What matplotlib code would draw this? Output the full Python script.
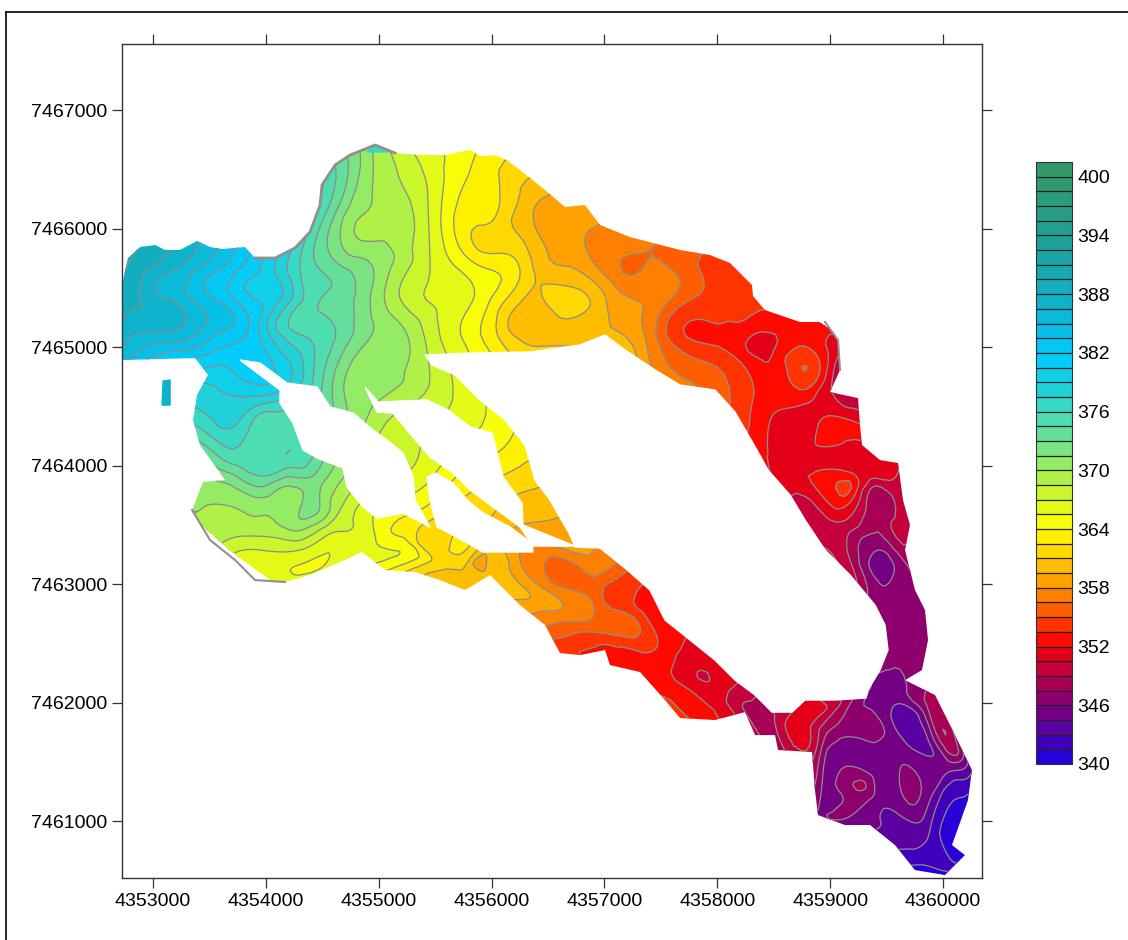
import matplotlib
matplotlib.use('Agg')
import matplotlib.pyplot as plt
import numpy as np
from matplotlib.colors import BoundaryNorm, LinearSegmentedColormap
from matplotlib.lines import Line2D
from matplotlib.patches import Polygon
from matplotlib.tri import Triangulation, UniformTriRefiner

plt.rcParams['font.family'] = ['Liberation Sans', 'DejaVu Sans']

x_ticks = [4353000, 4354000, 4355000, 4356000, 4357000, 4358000, 4359000, 4360000]
y_ticks = [7461000, 7462000, 7463000, 7464000, 7465000, 7466000, 7467000]
bar_ticks = [340, 346, 352, 358, 364, 370, 376, 382, 388, 394, 400]

outline_x = [4352725, 4352725, 4352778, 4352885, 4353018, 4353106, 4353239, 4353390, 4353505, 4353611,
             4353815, 4353904, 4354081, 4354258, 4354391, 4354480, 4354497, 4354613, 4354745, 4354967,
             4355144, 4355366, 4355587, 4355809, 4355897, 4356074, 4356252, 4356473, 4356650, 4356828,
             4356960, 4357226, 4357669, 4357935, 4358112, 4358307, 4358316, 4358422, 4358732, 4358954,
             4359069, 4359087, 4358998, 4359246, 4359264, 4359282, 4359441, 4359601, 4359645, 4359707,
             4359663, 4359751, 4359840, 4359867, 4359813, 4359663, 4359929, 4360106, 4360256, 4360221,
             4360079, 4360194, 4360017, 4359751, 4359574, 4359353, 4359131, 4358892, 4358865, 4358839,
             4358538, 4358511, 4358334, 4358245, 4357979, 4357669, 4357536, 4357315, 4357049, 4357005,
             4356783, 4356606, 4356473, 4356252, 4355986, 4355764, 4355543, 4355321, 4355056, 4354852,
             4354657, 4354391, 4354170, 4353904, 4353727, 4353505, 4353346, 4353443, 4353638, 4353576,
             4353416, 4353354, 4353390, 4353487, 4353372]
outline_y = [7464894, 7465527, 7465755, 7465848, 7465865, 7465823, 7465823, 7465899, 7465848, 7465831,
             7465848, 7465755, 7465755, 7465840, 7465975, 7466202, 7466371, 7466540, 7466624, 7466709,
             7466641, 7466624, 7466624, 7466667, 7466616, 7466624, 7466498, 7466329, 7466186, 7466202,
             7466034, 7465932, 7465823, 7465780, 7465713, 7465527, 7465434, 7465316, 7465215, 7465215,
             7465063, 7464810, 7464624, 7464573, 7464346, 7464177, 7464050, 7464025, 7463713, 7463502,
             7463291, 7462953, 7462784, 7462531, 7462278, 7462193, 7462067, 7461729, 7461434, 7461181,
             7460801, 7460716, 7460548, 7460590, 7460801, 7460970, 7460970, 7461054, 7461265, 7461586,
             7461603, 7461729, 7461729, 7461923, 7461856, 7461873, 7462025, 7462261, 7462320, 7462447,
             7462404, 7462421, 7462658, 7462826, 7463080, 7462953, 7463037, 7463105, 7463122, 7463274,
             7463189, 7463080, 7463021, 7463037, 7463206, 7463375, 7463628, 7463865, 7463881, 7463966,
             7464177, 7464388, 7464599, 7464768, 7464911]

gap1_x = [4353771, 4354125, 4354125, 4354240, 4354329, 4354453, 4354683, 4354719, 4354861, 4354985, 4355215,
          4355454, 4355321, 4355304, 4355215, 4355073, 4354949, 4354772, 4354568, 4354453, 4354187, 4353948]
gap1_y = [7464894, 7464641, 7464531, 7464362, 7464135, 7464067, 7463983, 7463822, 7463654, 7463561, 7463603,
          7463485, 7463713, 7463907, 7464109, 7464219, 7464303, 7464447, 7464498, 7464666, 7464700, 7464869]
gap2_x = [4354878, 4354994, 4355428, 4355614, 4355809, 4356004, 4356101, 4356269, 4356278, 4356606,
          4356739, 4356367, 4356252, 4356012, 4355809, 4355658, 4355454, 4355250, 4355126, 4354985]
gap2_y = [7464666, 7464540, 7464557, 7464472, 7464329, 7464278, 7463907, 7463687, 7463502, 7463375,
          7463324, 7463324, 7463485, 7463654, 7463797, 7463940, 7464076, 7464303, 7464447, 7464455]
gap3_x = [4355428, 4355499, 4355658, 4355782, 4355924, 4356163, 4356358, 4356367, 4355924, 4355658, 4355516, 4355454]
gap3_y = [7463907, 7463940, 7463856, 7463713, 7463603, 7463485, 7463346, 7463274, 7463274, 7463417, 7463485, 7463713]
lake_x = [4355410, 4355809, 4356340, 4356783, 4357005, 4357182, 4357448, 4357669, 4357979, 4358157, 4358351,
          4358449, 4358644, 4358777, 4358954, 4359175, 4359397, 4359486, 4359512, 4359441, 4359335, 4359317,
          4359043, 4358777, 4358662, 4358484, 4358334, 4358157, 4357979, 4357758, 4357536, 4357403, 4357182,
          4356960, 4356739, 4356695, 4356517, 4356385, 4356296, 4356119, 4355897, 4355676, 4355472]
lake_y = [7464936, 7464953, 7464962, 7465021, 7465105, 7464979, 7464810, 7464683, 7464641, 7464455, 7464135,
          7463966, 7463755, 7463544, 7463291, 7463080, 7462826, 7462658, 7462447, 7462278, 7462109, 7462042,
          7462025, 7462025, 7461923, 7461923, 7462067, 7462193, 7462362, 7462531, 7462700, 7462953, 7463139,
          7463308, 7463316, 7463417, 7463713, 7463881, 7464177, 7464388, 7464557, 7464768, 7464852]

island_x = [4353089, 4353151, 4353151, 4353080]
island_y = [7464717, 7464725, 7464514, 7464514]
island_z = 387
crest_x = [4354896, 4354967, 4355082]
crest_y = [7466650, 7466709, 7466650]
crest_z = 376

sample_x = [4352796, 4352796, 4352796, 4353239, 4353239, 4353239, 4353682, 4353682, 4353682, 4353992, 4353992,
            4354302, 4354302, 4354657, 4354657, 4354657, 4355011, 4355011, 4355011, 4355011, 4355454, 4355454,
            4355454, 4355809, 4355809, 4355809, 4356074, 4356074, 4356429, 4356429, 4356429, 4356872, 4356872,
            4356872, 4357403, 4357403, 4357846, 4357846, 4358289, 4358378, 4358732, 4358732, 4359175, 4358555,
            4359175, 4359441, 4358998, 4359618, 4359264, 4359707, 4359663, 4359530, 4359441, 4359884, 4360150,
            4358998, 4358644, 4358910, 4359618, 4359884, 4360150, 4359618, 4359884, 4359751,
            4353505, 4354037, 4353505, 4354214, 4353682, 4354480, 4353416, 4354037, 4354657, 4353682, 4354302,
            4354745, 4354037, 4355188, 4355366, 4355720, 4355897, 4356252, 4356606, 4356960, 4357315, 4357138,
            4357669, 4358112, 4358467,
            4354657, 4355011, 4355188, 4355454, 4355720, 4355366, 4356074, 4356429, 4355454, 4355809, 4356163,
            4356340, 4356517, 4356872,
            4352663, 4352663, 4354967, 4355809, 4356872, 4357935, 4358732, 4359131, 4359663, 4359777, 4359929,
            4360327, 4360283, 4360017, 4358865, 4357315, 4355986, 4354170, 4353284]
sample_y = [7465738, 7465401, 7465021, 7465738, 7465401, 7465021, 7465738, 7465401, 7465021, 7465654, 7465063,
            7465654, 7465063, 7466160, 7465654, 7465063, 7466498, 7465823, 7465232, 7464725, 7466498, 7465738,
            7465063, 7466498, 7465738, 7465063, 7466245, 7465063, 7466245, 7465654, 7465063, 7465991, 7465401,
            7465105, 7465823, 7465063, 7465654, 7464894, 7465401, 7464557, 7465063, 7464557, 7464388, 7463966,
            7463966, 7463881, 7463544, 7463459, 7462953, 7463122, 7462531, 7462193, 7461856, 7462025, 7461603,
            7461771, 7461856, 7461181, 7461603, 7461181, 7461265, 7460928, 7460675, 7460590,
            7464599, 7464557, 7464219, 7464135, 7463966, 7463881, 7463628, 7463713, 7463628, 7463291, 7463291,
            7463459, 7463122, 7463375, 7463206, 7463122, 7463206, 7463206, 7462953, 7462869, 7462700, 7462362,
            7462278, 7462109, 7461856,
            7464599, 7464472, 7464177, 7463966, 7463713, 7463628, 7463459, 7463375, 7464767, 7464388, 7464219,
            7463797, 7463544, 7463248,
            7465823, 7464852, 7466768, 7466709, 7466262, 7465840, 7465274, 7465063, 7464093, 7463375, 7462531,
            7461434, 7460675, 7460489, 7460970, 7462193, 7462995, 7462953, 7463628]
sample_z = [389.5, 388.5, 386, 387, 386, 384.5, 383.5, 382.5, 382, 380, 380,
            376, 376.5, 372.5, 373.5, 374, 369.5, 370.5, 371, 370.5, 366.5, 367,
            368, 364, 364, 365, 362.5, 362.5, 359.5, 360.5, 360.5, 358, 361,
            360, 356.5, 357.5, 355, 355, 354, 353, 353, 352.5, 352, 351.5,
            351.5, 350.3, 350.5, 349.5, 348.5, 347.5, 346, 345.5, 346, 348, 347,
            347.5, 351, 346, 345.5, 344.5, 342, 344, 342, 341,
            378.5, 378, 375.5, 376, 373.5, 372, 370, 371, 368.5, 367.5, 367,
            367, 366, 364.5, 363.5, 361, 359, 358, 357, 355.5, 354.5, 352.5,
            351.5, 350.5, 348.5,
            372, 369.5, 367.5, 366, 362.5, 364, 360, 358.5, 368.5, 366, 364,
            361, 359.5, 358,
            390, 386.5, 369.5, 364.5, 359, 355, 353, 351.5, 350, 348, 346.5,
            341, 341, 340.5, 345.5, 353, 360.5, 366, 370]

# extra readings where the contours wander or close into small loops
detail_x = [4353018, 4353018, 4353461, 4353461, 4353815, 4353815, 4354125, 4354125, 4354480, 4354834, 4354834,
            4354834, 4355233, 4355233, 4355233, 4355631, 4355631, 4355942, 4355942, 4356252, 4356252, 4356606,
            4356606, 4357093, 4357093, 4357581, 4357581, 4358068, 4358068, 4358467, 4358201, 4358910, 4359043,
            4358865, 4359043, 4359131, 4359397, 4359220, 4358732, 4358865, 4358998, 4359175, 4359441, 4359530,
            4359441,
            4353771, 4353948, 4353682, 4353948, 4354214, 4354391, 4353859, 4354214, 4354568, 4353948, 4354302,
            4354568, 4355011, 4355454, 4355277, 4355809, 4355986, 4356429, 4356695, 4356960, 4357049, 4357138,
            4356783, 4357403, 4357315, 4357581, 4357758, 4357935, 4358201, 4358732,
            4359264, 4359441, 4359618, 4359796, 4359973, 4360106, 4360106, 4359397, 4359175, 4359043, 4359707,
            4359884, 4360017, 4359707, 4359574, 4359884, 4359973]
detail_y = [7465527, 7465232, 7465569, 7465190, 7465485, 7465190, 7465401, 7465232, 7465401, 7465907, 7465401,
            7464894, 7466160, 7465485, 7465147, 7466160, 7465401, 7465907, 7465401, 7465654, 7465232, 7465823,
            7465316, 7465569, 7465147, 7465401, 7465147, 7465485, 7464979, 7464979, 7464810, 7464810, 7464683,
            7464388, 7464261, 7464093, 7463797, 7463797, 7463375, 7463544, 7463206, 7463206, 7463375, 7463122,
            7462869,
            7464388, 7464388, 7463797, 7463881, 7463797, 7463628, 7463459, 7463459, 7463459, 7463291, 7463080,
            7463248, 7463417, 7463333, 7463248, 7463248, 7463164, 7462953, 7463122, 7463122, 7462869, 7462700,
            7462658, 7462784, 7462447, 7462447, 7462109, 7462193, 7461940, 7461645,
            7461350, 7461434, 7462025, 7461687, 7461434, 7461265, 7461518, 7461181, 7461181, 7461012, 7461096,
            7460928, 7460759, 7460675, 7461856, 7461898, 7461603]
detail_z = [386.5, 387.5, 383.5, 385, 380.5, 382.5, 379, 377, 374.5, 370, 372.5,
            371, 369, 368, 370, 364.5, 366.5, 362, 364.5, 362.5, 360, 359,
            361.5, 357.5, 359.5, 356.5, 354.5, 354.5, 353.5, 351.7, 354, 353.5, 350,
            351.6, 353, 351, 348.5, 352.5, 351, 349.5, 351, 349, 347, 345.5,
            346.5,
            377.5, 375.5, 371, 374, 371, 372, 369, 370, 367.5, 367, 365.5,
            365.5, 365, 361.5, 365, 361.5, 360, 358.5, 355.5, 357, 354.5, 355.8,
            356, 353, 353.7, 352.5, 352, 350.5, 349.5, 351,
            347.5, 345, 345, 343.5, 345, 342, 346.5, 345.5, 346.5, 346, 345.5,
            343, 341.5, 342, 344, 347.5, 346]

levels = np.arange(340, 402, 1.5)

color_stops = [(340, '#2800d8'), (344, '#6a0090'), (346, '#8a0070'), (349, '#c00040'), (350.5, '#e00020'),
               (352, '#ff0000'), (355, '#ff5500'), (358, '#ff9900'), (361, '#ffd000'), (364, '#ffff00'),
               (367, '#d8f820'), (370, '#a0ee55'), (373, '#70e090'), (376, '#44dcb8'), (379, '#18d0e0'),
               (382, '#00ccff'), (388, '#10b0c8'), (394, '#20a098'), (401.5, '#339966')]


def make_cmap():
    stops = [((z - 340) / 61.5, c) for z, c in color_stops]
    cmap = LinearSegmentedColormap.from_list('relief', stops, N=len(levels) - 1)
    norm = BoundaryNorm(levels, cmap.N)
    return cmap, norm


def draw_map(ax, cmap, norm):
    tri = Triangulation(sample_x + detail_x, sample_y + detail_y)
    # rounder contour lines, the library refines the triangles between the readings
    fine_tri, fine_z = UniformTriRefiner(tri).refine_field(np.array(sample_z + detail_z), subdiv=3)
    fine_z = np.clip(fine_z, 340, 401)
    filled = ax.tricontourf(fine_tri, fine_z, levels=levels, cmap=cmap, norm=norm)
    lines = ax.tricontour(fine_tri, fine_z, levels=levels, colors='#8c8c8c', linewidths=0.9)

    outline = Polygon(np.column_stack([outline_x, outline_y]), closed=True, transform=ax.transData,
                      facecolor='none', edgecolor='none')
    ax.add_patch(outline)
    filled.set_clip_path(outline)
    lines.set_clip_path(outline)

    for gap_x, gap_y in [(gap1_x, gap1_y), (gap2_x, gap2_y), (gap3_x, gap3_y), (lake_x, lake_y)]:
        ax.fill(gap_x, gap_y, color='white', zorder=3)

    ax.fill(island_x, island_y, color=cmap(norm(island_z)), zorder=3)
    ax.fill(crest_x, crest_y, color=cmap(norm(crest_z)), zorder=3)

    # darker edge where the contours bunch up along the valley wall
    ax.plot(outline_x[11:21], outline_y[11:21], color='#909090', lw=2, zorder=4)
    ax.plot(outline_x[39:42], outline_y[39:42], color='#909090', lw=1.5, zorder=4)
    ax.plot(outline_x[92:97], outline_y[92:97], color='#909090', lw=1.5, zorder=4)


def style_axes(ax):
    ax.set_xlim(4352725, 4360345)
    ax.set_ylim(7460523, 7467561)
    ax.set_xticks(x_ticks)
    ax.set_yticks(y_ticks)
    ax.ticklabel_format(useOffset=False, style='plain')
    ax.tick_params(axis='both', direction='out', length=7.5, width=0.9, color='#333333',
                   top=True, right=True, labelsize=14, pad=3)
    for spine in ax.spines.values():
        spine.set_color('#333333')
        spine.set_linewidth(1.0)


def main():
    fig = plt.figure(figsize=(11.28, 9.4), dpi=100)
    ax = fig.add_axes([122 / 1128, 1 - 878 / 940, 860 / 1128, 834 / 940])
    cmap, norm = make_cmap()
    draw_map(ax, cmap, norm)
    style_axes(ax)

    cax = fig.add_axes([1036 / 1128, 1 - 764 / 940, 36 / 1128, 602 / 940])
    bar = fig.colorbar(plt.cm.ScalarMappable(norm=norm, cmap=cmap), cax=cax, ticks=bar_ticks,
                       spacing='uniform', drawedges=True)
    bar.dividers.set_color('#222222')
    bar.dividers.set_linewidth(0.9)
    bar.outline.set_edgecolor('#333333')
    bar.minorticks_off()
    bar.ax.tick_params(which='both', length=0, labelsize=14, pad=4)
    bar.ax.set_yticklabels([str(t) for t in bar_ticks])

    fig.add_artist(Line2D([6 / 1128, 6 / 1128], [0, 1 - 11.5 / 940], color='black', lw=1.2))
    fig.add_artist(Line2D([6 / 1128, 1], [1 - 11.5 / 940, 1 - 11.5 / 940], color='black', lw=1.2))

    fig.savefig('out.png', dpi=100)


if __name__ == '__main__':
    main()
